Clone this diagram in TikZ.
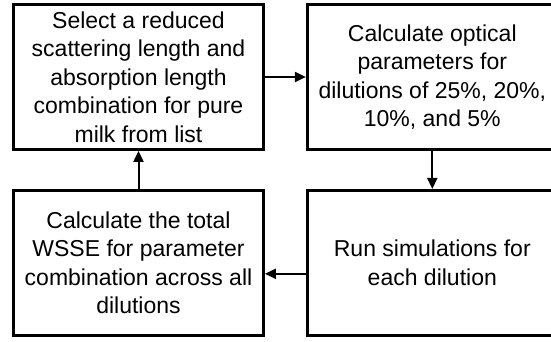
\documentclass[tikz,border=0pt]{standalone}
\usepackage{fontspec}
\setmainfont{Liberation Sans}
\usetikzlibrary{positioning,arrows.meta,shadows}

\begin{document}
\begin{tikzpicture}[x=1pt, y=1pt,
    stepbox/.style={draw, line width=2.8pt, fill=white, minimum width=250pt,
      minimum height=145pt, align=center, font=\fontsize{23}{28.5}\selectfont,
      drop shadow={shadow xshift=1.5pt, shadow yshift=-1.5pt, fill=black!40, opacity=0.8}},
    link/.style={-{Triangle[width=10pt,length=11pt]}, line width=2pt}]
    \useasboundingbox (0,0) rectangle (551,-341);
    \node (select)   [stepbox] at (138.5,-77) {Select a reduced\\scattering length and\\absorption length\\combination for pure\\milk from list};
    \node (optical)  [stepbox, right=41pt of select] {Calculate optical\\parameters for\\dilutions of 25\%, 20\%,\\10\%, and 5\%};
    \node (simulate) [stepbox, below=38pt of optical] {Run simulations for\\each dilution};
    \node (wsse)     [stepbox, below=38pt of select] {Calculate the total\\WSSE for parameter\\combination across all\\dilutions};

    \draw[link] (select) -- (optical);
    \draw[link] (optical) -- (simulate);
    \draw[link] ([yshift=-11pt]simulate.west) -- ([yshift=-11pt]wsse.east);
    \draw[link] (wsse) -- (select);
\end{tikzpicture}
\end{document}
